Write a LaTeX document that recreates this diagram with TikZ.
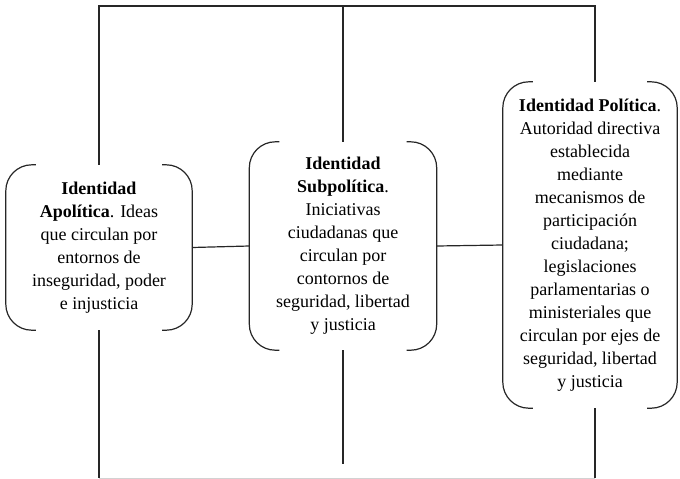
\documentclass[tikz,border=0pt]{standalone}
\usepackage{fontspec}
\setmainfont{Liberation Serif}
\usetikzlibrary{positioning}

\begin{document}
\begin{tikzpicture}[x=1pt,y=-1pt,
    idbox/.style={align=center, inner sep=0pt, font=\fontsize{18}{23}\selectfont},
    bracket/.style={line width=1.2pt, black!85, rounded corners=26pt},
    link/.style={line width=1.2pt, black!85}]
  \useasboundingbox (0,0) rectangle (680,479);

  % Identity boxes
  \node[idbox, minimum width=186pt, minimum height=165pt] (apo) at (99,247.5)
    {\textbf{Identidad}\\\textbf{Apolítica}. Ideas\\que circulan por\\entornos de\\inseguridad, poder\\e injusticia};
  \node[idbox, minimum width=187pt, minimum height=208pt] (sub) at (343,246)
    {\textbf{Identidad}\\\textbf{Subpolítica}.\\Iniciativas\\ciudadanas que\\circulan por\\contornos de\\seguridad, libertad\\y justicia};
  \node[idbox, minimum width=174pt, minimum height=326pt] (pol) at (590,245)
    {\textbf{Identidad Política}.\\Autoridad directiva\\establecida\\mediante\\mecanismos de\\participación\\ciudadana;\\legislaciones\\parlamentarias o\\ministeriales que\\circulan por ejes de\\seguridad, libertad\\y justicia};

  % Brackets round the boxes
  \foreach \n in {apo,sub,pol} {
    \draw[bracket] ([xshift=30pt]\n.north west) -- (\n.north west) -- (\n.south west) -- ([xshift=30pt]\n.south west);
    \draw[bracket] ([xshift=-30pt]\n.north east) -- (\n.north east) -- (\n.south east) -- ([xshift=-30pt]\n.south east);
  }

  % Frame
  \coordinate (top) at (0,6);
  \coordinate (bot) at (0,478);
  \coordinate (subend) at (0,464);
  \coordinate (poltop) at ([xshift=5pt]pol.north);
  \coordinate (polbot) at ([xshift=5pt]pol.south);
  \draw[link] (apo.north) -- (apo.north |- top) -- (poltop |- top) -- (poltop);
  \draw[link] (sub.north) -- (sub.north |- top);
  \draw[link] (apo.south) -- (apo.south |- bot);
  \draw[link] (polbot) -- (polbot |- bot);
  \draw[link] (sub.south) -- (sub.south |- subend);
  \draw[gray!35] (apo.south |- bot) -- (polbot |- bot);

  % Links between boxes
  \draw[link] (apo.east) -- (sub.west);
  \draw[link] (sub.east) -- (pol.west);
\end{tikzpicture}
\end{document}
